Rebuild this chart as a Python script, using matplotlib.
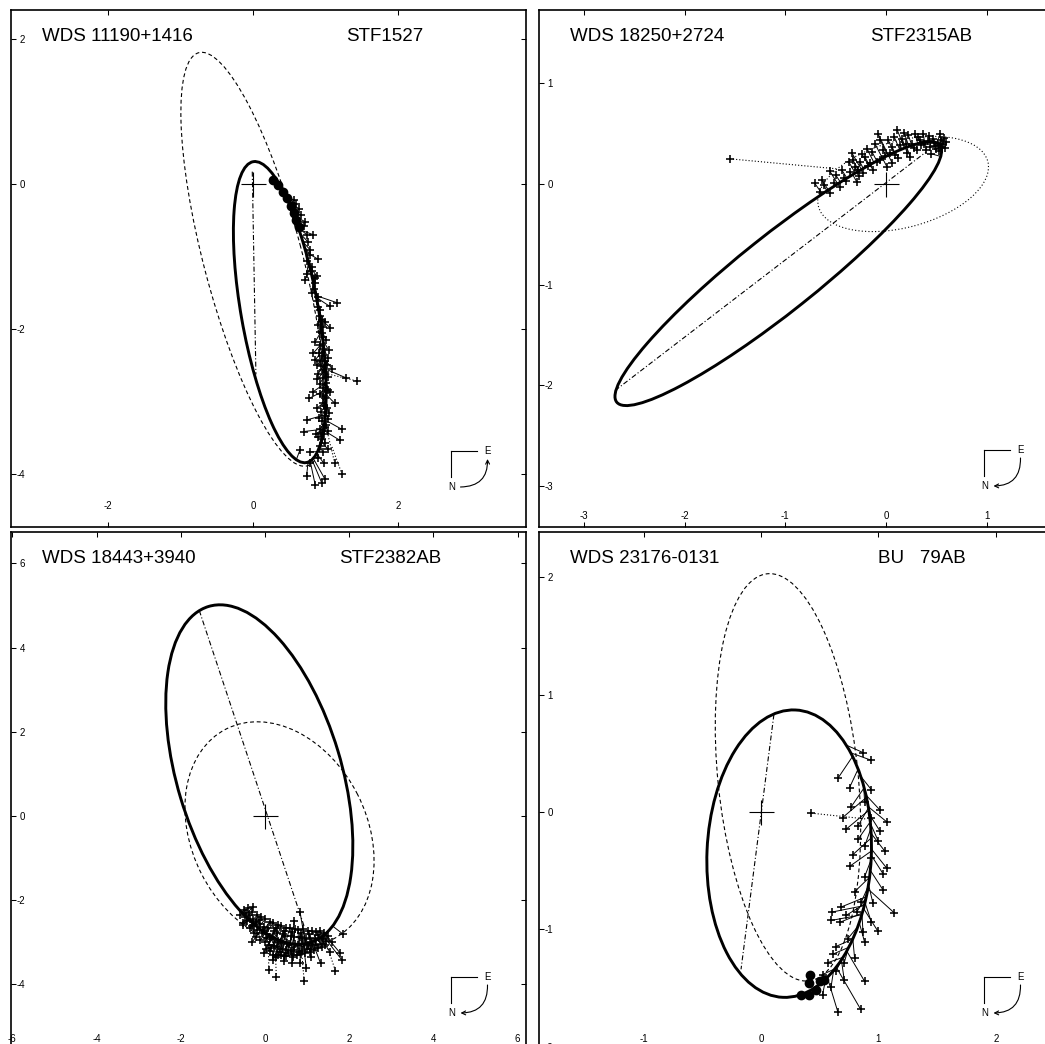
import numpy as np
import matplotlib
matplotlib.use("Agg")
import matplotlib.pyplot as plt
from matplotlib.patches import Ellipse

plt.rcParams["font.family"] = ["Liberation Sans", "DejaVu Sans"]
plt.rcParams["axes.unicode_minus"] = False

# ============================ DATA ============================
# apparent orbits: centre x, centre y, semi-major, semi-minor, position angle of major axis (deg)
# ---------------- panel 1 ----------------
p1_wds = "WDS 11190+1416"
p1_disc = "STF1527"
p1_orbit = [0.37, -1.77, 2.11, 0.534, 100.0]
p1_prev = [0.0, -1.04, 2.95, 0.68, 104.7]
p1_node = [(-0.01, 0.17), (0.04, -2.63)]
p1_obs = [(0.56,-0.22),(0.60,-0.27),(0.64,-0.34),(0.66,-0.43),(0.70,-0.58),(0.72,-0.52),(0.74,-0.70),
          (0.83,-0.70),(0.76,-0.80),(0.79,-0.91),(0.79,-0.98),(0.90,-1.04),(0.74,-1.06),(0.81,-1.14),
          (0.82,-1.20),(0.74,-1.24),(0.88,-1.27),(0.85,-1.30),(0.72,-1.32),(0.86,-1.37),(0.84,-1.45),
          (0.81,-1.51),(0.90,-1.56),(0.88,-1.62),(1.16,-1.64),(1.06,-1.69),(0.90,-1.70),(0.93,-1.74),
          (0.92,-1.82),(0.95,-1.88),(0.99,-1.90),(0.90,-1.95),(1.07,-1.99),(0.93,-2.05),(0.95,-2.06),
          (0.96,-2.12),(0.86,-2.18),(0.92,-2.22),(0.97,-2.28),(1.05,-2.30),(0.83,-2.34),(0.95,-2.38),
          (0.86,-2.43),(0.99,-2.45),(0.89,-2.50),(0.94,-2.52),(1.09,-2.55),(1.00,-2.60),(0.90,-2.62),
          (0.96,-2.68),(1.29,-2.68),(1.01,-2.75),(0.97,-2.82),(0.83,-2.87),(1.06,-2.88),(0.93,-2.90),
          (1.00,-2.95),(0.78,-2.96),(0.96,-3.02),(1.13,-3.03),(1.02,-3.10),(0.88,-3.10),(0.94,-3.15),
          (0.99,-3.20),(1.04,-3.25),(0.74,-3.26),(0.95,-3.28),(1.01,-3.33),(0.93,-3.38),(1.23,-3.39),
          (0.70,-3.42),(0.98,-3.45),(0.87,-3.45),(0.95,-3.52),(1.20,-3.54),(1.00,-3.58),(0.92,-3.62),
          (0.65,-3.67),(0.79,-3.70),(0.96,-3.70),(0.90,-3.78),(0.79,-3.86),(0.98,-3.86),(0.74,-4.03),
          (0.99,-4.07),(0.95,-4.13),(0.86,-4.16),
          (0.97,-1.97),(1.01,-2.16),(0.91,-2.33),(1.03,-2.40),(0.97,-2.57),(1.04,-2.66),(0.92,-2.76),
          (1.03,-2.84),(0.98,-3.07),(1.05,-3.16),(0.91,-3.23),(1.03,-3.41),(0.90,-3.50),(1.03,-3.66),
          (0.94,-3.44),(0.99,-3.35),(0.96,-2.93),(0.89,-2.70),(1.02,-2.50),(0.93,-2.45)]
p1_dots = [(0.28,0.05),(0.35,-0.02),(0.42,-0.11),(0.47,-0.20),(0.53,-0.31),(0.56,-0.40),(0.60,-0.50),(0.63,-0.59)]
p1_rej = [(1.43,-2.72),(1.13,-3.86),(1.23,-4.01)]
p1_rej_pred = [(1.02,-2.62),(1.02,-3.40),(1.09,-3.63)]
p1_xticks = [-2, 0, 2]
p1_yticks = [-4, -2, 0, 2]

# ---------------- panel 2 ----------------
p2_wds = "WDS 18250+2724"
p2_disc = "STF2315AB"
p2_orbit = [-1.07, -0.89, 2.05, 0.38, 38.5]
p2_prev = [0.17, 0.0, 0.87, 0.43, 15.0]
p2_node = [(-2.69, -2.05), (0.40, 0.32)]
p2_obs = [(-0.71,0.01),(-0.66,-0.08),(-0.62,-0.01),(-0.56,-0.09),(-0.56,0.13),(-0.52,0.01),(-0.46,-0.03),
          (-0.42,0.06),(-0.36,0.12),(-0.37,0.22),(-0.34,0.31),(-0.33,0.24),(-0.31,0.17),(-0.29,0.02),
          (-0.28,0.14),(-0.26,0.22),(-0.23,0.11),(-0.21,0.27),(-0.19,0.35),(-0.16,0.21),(-0.14,0.32),
          (-0.13,0.14),(-0.11,0.40),(-0.08,0.50),(-0.06,0.24),(-0.06,0.44),(-0.03,0.34),(0.01,0.17),
          (0.04,0.31),(0.06,0.37),(0.09,0.29),(0.11,0.54),(0.14,0.39),(0.18,0.51),(0.21,0.31),(0.22,0.49),
          (0.26,0.40),(0.29,0.50),(0.31,0.34),(0.34,0.44),(0.37,0.50),(0.40,0.34),(0.44,0.37),(0.47,0.45),
          (0.50,0.35),(0.52,0.39),(0.54,0.50),(0.55,0.44),(0.57,0.40),(0.59,0.36),(0.48,0.41),(0.42,0.43),
          (0.35,0.39),(0.28,0.36),(0.53,0.33),(0.58,0.46),(0.45,0.30),(0.38,0.40),(0.24,0.27),(0.12,0.26),
          (-0.01,0.28),(-0.18,0.18),(-0.40,0.03),(-0.50,0.09),(-0.64,0.04),
          (-0.24,0.30),(-0.09,0.22),(0.02,0.44),(0.08,0.47),(0.16,0.45),(0.20,0.40),(0.32,0.47),
          (0.43,0.48),(0.49,0.38),(0.56,0.37),(0.60,0.42),(-0.44,0.14),(-0.27,0.08),(0.06,0.21)]
p2_dots = []
p2_rej = [(-1.55,0.25)]
p2_rej_pred = [(-0.48,0.15)]
p2_xticks = [-3, -2, -1, 0, 1]
p2_yticks = [-3, -2, -1, 0, 1]

# ---------------- panel 3 ----------------
p3_wds = "WDS 18443+3940"
p3_disc = "STF2382AB"
p3_orbit = [-0.135, 0.985, 4.17, 1.95, 106.8]
p3_prev = [0.345, -0.43, 2.80, 2.08, 116.9]
p3_node = [(-1.56, 4.88), (0.93, -2.62)]
p3_obs = [(-0.50,-2.24),(-0.47,-2.40),(-0.52,-2.55),(-0.41,-2.19),(-0.38,-2.35),(-0.42,-2.50),(-0.36,-2.66),
          (-0.31,-2.28),(-0.29,-2.46),(-0.32,-2.61),(-0.27,-2.79),(-0.19,-2.36),(-0.21,-2.52),(-0.18,-2.71),
          (-0.22,-2.87),(-0.09,-2.41),(-0.12,-2.57),(-0.08,-2.77),(-0.11,-2.95),(0.01,-2.44),(-0.02,-2.63),
          (0.03,-2.81),(0.00,-2.99),(0.02,-3.16),(0.11,-2.51),(0.08,-2.67),(0.12,-2.87),(0.09,-3.06),
          (0.11,-3.21),(0.19,-2.54),(0.22,-2.73),(0.18,-2.91),(0.21,-3.09),(0.19,-3.29),(0.31,-2.59),
          (0.28,-2.77),(0.32,-2.96),(0.29,-3.12),(0.31,-3.31),(0.39,-2.61),(0.42,-2.81),(0.38,-2.99),
          (0.41,-3.16),(0.39,-3.29),(0.51,-2.66),(0.48,-2.84),(0.52,-3.01),(0.49,-3.19),(0.51,-3.33),
          (0.59,-2.65),(0.62,-2.86),(0.58,-3.03),(0.61,-3.21),(0.63,-3.31),(0.71,-2.69),(0.68,-2.87),
          (0.72,-3.04),(0.69,-3.19),(0.79,-2.71),(0.82,-2.88),(0.78,-3.06),(0.81,-3.23),(0.91,-2.69),
          (0.88,-2.89),(0.92,-3.04),(0.89,-3.21),(1.01,-2.73),(0.98,-2.91),(1.02,-3.06),(0.99,-3.17),
          (1.11,-2.72),(1.08,-2.89),(1.12,-3.04),(1.09,-3.16),(1.21,-2.75),(1.18,-2.91),(1.22,-3.06),
          (1.31,-2.74),(1.28,-2.89),(1.32,-3.04),(1.41,-2.77),(1.38,-2.93),(1.42,-3.06),
          (0.83,-2.27),(1.86,-2.81),(1.82,-3.41),(1.32,-3.50),(0.84,-3.50),(0.98,-3.60),(-0.03,-3.25),
          (-0.31,-3.00),(-0.53,-2.60),(1.55,-3.24),(1.79,-3.26),(-0.29,-2.17),(1.60,-3.00),(-0.60,-2.35),
          (0.45,-3.45),(0.65,-3.48),(0.20,-3.42),(1.10,-3.35),(1.50,-2.85),(0.70,-2.50),
          (-0.45,-2.30),(-0.35,-2.45),(-0.25,-2.60),(-0.15,-2.46),(-0.05,-2.70),(0.05,-2.90),(0.15,-3.14),
          (0.25,-3.36),(0.35,-3.22),(0.45,-3.33),(0.55,-3.25),(0.66,-3.36),(0.76,-3.30),(0.86,-3.28),
          (0.96,-3.26),(1.06,-3.22),(1.16,-3.18),(1.26,-3.14),(1.36,-3.10),(1.46,-2.98),(0.25,-2.65),
          (0.45,-2.72),(0.65,-2.76),(0.85,-2.79),(1.05,-2.81),(1.25,-2.82)]
p3_dots = []
p3_rej = [(0.09,-3.65),(0.27,-3.83),(0.93,-3.91),(1.67,-3.67)]
p3_rej_pred = [(0.08,-3.00),(0.24,-3.05),(0.86,-3.10),(1.45,-3.00)]
p3_xticks = [-6, -4, -2, 0, 2, 4, 6]
p3_yticks = [-4, -2, 0, 2, 4, 6]

# ---------------- panel 4 ----------------
p4_wds = "WDS 23176-0131"
p4_disc = "BU   79AB"
p4_orbit = [0.24, -0.355, 1.225, 0.70, 87.5]
p4_prev = [0.23, 0.295, 1.743, 0.597, 95.8]
p4_node = [(0.11, 0.83), (-0.17, -1.34)]
p4_obs = [(0.869,0.506),(0.935,0.442),(0.659,0.293),(0.754,0.207),(0.941,0.189),(0.883,0.083),(0.769,0.045),
          (1.013,0.017),(0.696,-0.047),(0.941,-0.047),(1.071,-0.084),(0.725,-0.147),(0.826,-0.119),
          (1.013,-0.162),(0.826,-0.234),(0.999,-0.247),(0.883,-0.291),(1.055,-0.334),(0.783,-0.363),
          (0.941,-0.392),(1.071,-0.478),(0.754,-0.464),(1.042,-0.530),(0.883,-0.551),(0.797,-0.680),
          (1.042,-0.668),(0.855,-0.766),(0.953,-0.775),(1.137,-0.861),(0.602,-0.853),(0.684,-0.809),
          (0.725,-0.881),(0.814,-0.853),(0.597,-0.924),(0.672,-0.940),(0.941,-0.940),(0.993,-1.011),
          (0.869,-1.025),(0.737,-1.082),(0.883,-1.110),(0.638,-1.146),(0.797,-1.241),(0.610,-1.212),
          (0.709,-1.284),(0.567,-1.284),(0.638,-1.356),(0.883,-1.443),(0.524,-1.385),(0.709,-1.430),
          (0.524,-1.557),(0.654,-1.701),(0.849,-1.681),(0.597,-1.490)]
p4_dots = [(0.42,-1.39),(0.41,-1.46),(0.34,-1.56),(0.41,-1.56),(0.47,-1.52),(0.50,-1.44),(0.54,-1.43)]
p4_rej = [(0.43,-0.01)]
p4_rej_pred = [(0.90,-0.06)]
p4_xticks = [-1, 0, 1, 2]
p4_yticks = [-2, -1, 0, 1, 2]

# ============================ LAYOUT ============================
W, H = 1045, 1044
PW, PH = 515, 517
panels = [
    dict(wds=p1_wds, disc=p1_disc, orbit=p1_orbit, prev=p1_prev, node=p1_node, obs=p1_obs, dots=p1_dots,
         rej=p1_rej, rej_pred=p1_rej_pred, xticks=p1_xticks, yticks=p1_yticks,
         box=(11, 10), xlim=(-3.343, 3.771), ylim=(-4.738, 2.403), prev_style=(0, (3.5, 2.5)),
         lag=4.0, xpad=-18.4, disc_x=335.5, headE=True, comp=(440, 441)),
    dict(wds=p2_wds, disc=p2_disc, orbit=p2_orbit, prev=p2_prev, node=p2_node, obs=p2_obs, dots=p2_dots,
         rej=p2_rej, rej_pred=p2_rej_pred, xticks=p2_xticks, yticks=p2_yticks,
         box=(539, 10), xlim=(-3.446, 1.668), ylim=(-3.406, 1.728), prev_style=(0, (1.0, 2.0)),
         lag=0.0, xpad=-11.5, disc_x=331.6, headE=False, comp=(445, 440)),
    dict(wds=p3_wds, disc=p3_disc, orbit=p3_orbit, prev=p3_prev, node=p3_node, obs=p3_obs, dots=p3_dots,
         rej=p3_rej, rej_pred=p3_rej_pred, xticks=p3_xticks, yticks=p3_yticks,
         box=(11, 532), xlim=(-6.033, 6.200), ylim=(-5.534, 6.746), prev_style=(0, (3.5, 2.5)),
         lag=0.0, xpad=-10.6, disc_x=328.0, headE=False, comp=(440, 445)),
    dict(wds=p4_wds, disc=p4_disc, orbit=p4_orbit, prev=p4_prev, node=p4_node, obs=p4_obs, dots=p4_dots,
         rej=p4_rej, rej_pred=p4_rej_pred, xticks=p4_xticks, yticks=p4_yticks,
         box=(539, 532), xlim=(-1.891, 2.496), ylim=(-2.019, 2.385), prev_style=(0, (3.5, 2.5)),
         lag=7.0, xpad=-10.6, disc_x=338.7, headE=False, comp=(445, 445)),
]


def ellipse_xy(p, t):
    cx, cy, a, b, ang = p
    ph = np.radians(ang)
    x = cx + a * np.cos(t) * np.cos(ph) - b * np.sin(t) * np.sin(ph)
    y = cy + a * np.cos(t) * np.sin(ph) + b * np.sin(t) * np.cos(ph)
    return x, y


def predicted(p, ox, oy, lag):
    t = np.radians(np.arange(0.0, 360.0, 0.25))
    ex, ey = ellipse_xy(p, t)
    d = (ox[:, None] - ex[None, :]) ** 2 + (oy[:, None] - ey[None, :]) ** 2
    ti = t[np.argmin(d, axis=1)] + np.radians(lag)
    return ellipse_xy(p, ti)


fig = plt.figure(figsize=(W / 100, H / 100), dpi=100)

for P in panels:
    L, T = P["box"]
    ax = fig.add_axes([L / W, 1 - (T + PH) / H, PW / W, PH / H])
    ax.set_xlim(*P["xlim"])
    ax.set_ylim(*P["ylim"])
    for s in ax.spines.values():
        s.set_linewidth(1.2)
    ax.set_xticks(P["xticks"])
    ax.set_yticks(P["yticks"])
    ax.set_xticklabels([str(v) for v in P["xticks"]])
    ax.set_yticklabels([str(v) for v in P["yticks"]])
    ax.tick_params(direction="in", length=3.6, width=0.75, top=True, right=True, labelsize=7)
    ax.tick_params(axis="x", pad=P["xpad"])
    ax.tick_params(axis="y", pad=-10.1)

    cx, cy, a, b, ang = P["orbit"]
    ax.add_patch(Ellipse((cx, cy), 2 * a, 2 * b, angle=ang, fill=False, lw=2.1, ec="black", zorder=3))
    cx, cy, a, b, ang = P["prev"]
    ax.add_patch(Ellipse((cx, cy), 2 * a, 2 * b, angle=ang, fill=False, lw=0.8, ec="black",
                         ls=P["prev_style"], zorder=2))
    nx = [q[0] for q in P["node"]]
    ny = [q[1] for q in P["node"]]
    ax.plot(nx, ny, color="black", lw=0.8, ls=(0, (4.5, 2.0, 1.0, 2.0)), zorder=2)

    obs = np.array(P["obs"])
    ox, oy = obs[:, 0], obs[:, 1]
    px, py = predicted(P["orbit"], ox, oy, P["lag"])
    ax.plot(np.vstack([ox, px]), np.vstack([oy, py]), color="black", lw=0.7, zorder=4)
    ax.plot(ox, oy, ls="none", marker="+", ms=6, mew=1.15, color="black", zorder=5)

    rej = np.array(P["rej"])
    rp = np.array(P["rej_pred"])
    ax.plot(np.vstack([rej[:, 0], rp[:, 0]]), np.vstack([rej[:, 1], rp[:, 1]]),
            color="black", lw=0.8, ls=(0, (1.0, 1.8)), zorder=4)
    ax.plot(rej[:, 0], rej[:, 1], ls="none", marker="+", ms=6, mew=1.15, color="black", zorder=5)

    if len(P["dots"]):
        dd = np.array(P["dots"])
        ax.plot(dd[:, 0], dd[:, 1], ls="none", marker="o", ms=6, color="black", zorder=6)

    ax.plot([0], [0], marker="+", ms=18, mew=0.8, color="black", zorder=6)

    # texts
    ax.text(31.5 / PW, 1 - 31 / PH, P["wds"], transform=ax.transAxes, fontsize=13.5,
            ha="left", va="baseline")
    ax.text(P["disc_x"] / PW, 1 - 31 / PH, P["disc"], transform=ax.transAxes, fontsize=13.5,
            ha="left", va="baseline")

    # compass
    c0x, c0y = P["comp"]
    fx = lambda dx: (c0x + dx) / PW
    fy = lambda dy: 1 - (c0y + dy) / PH
    ax.plot([fx(0), fx(26)], [fy(0), fy(0)], transform=ax.transAxes, color="black", lw=0.8, clip_on=False)
    ax.plot([fx(0), fx(0)], [fy(0), fy(26)], transform=ax.transAxes, color="black", lw=0.8, clip_on=False)
    ax.text(fx(36.5), fy(0), "E", transform=ax.transAxes, fontsize=7, ha="center", va="center")
    ax.text(fx(0.5), fy(36), "N", transform=ax.transAxes, fontsize=7, ha="center", va="center")
    pE = (fx(36.5), fy(8))
    pN = (fx(9.5), fy(36))
    if P["headE"]:
        start, end, rad = pN, pE, 0.5
    else:
        start, end, rad = pE, pN, -0.5
    ax.annotate("", xy=end, xytext=start, xycoords="axes fraction", textcoords="axes fraction",
                arrowprops=dict(arrowstyle="->", lw=0.8, color="black", shrinkA=0, shrinkB=0,
                                connectionstyle=f"arc3,rad={rad}", mutation_scale=7))

fig.savefig("out.png", dpi=100)
